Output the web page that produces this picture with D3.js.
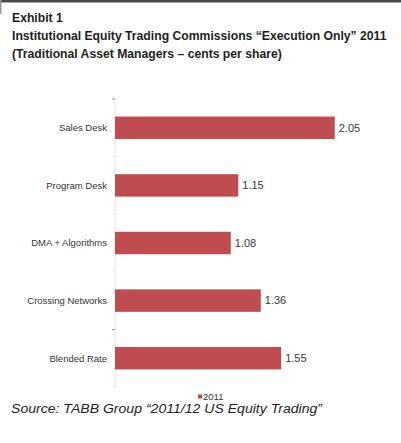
<!DOCTYPE html>
<html>
<head>
<meta charset="utf-8">
<script src="https://cdn.jsdelivr.net/npm/d3@7"></script>
<style>
  html, body { margin: 0; padding: 0; background: #fff; }
  svg { display: block; }
</style>
</head>
<body>
<script>
// Commission rates by trading channel, cents per share
const categories = ["Sales Desk", "Program Desk", "DMA + Algorithms", "Crossing Networks", "Blended Rate"];
const values2011 = [2.05, 1.15, 1.08, 1.36, 1.55];
const seriesName = "2011";
const titleLines = [
  "Exhibit 1",
  "Institutional Equity Trading Commissions \u201cExecution Only\u201d 2011",
  "(Traditional Asset Managers \u2013 cents per share)"
];
const sourceText = "Source: TABB Group \u201c2011/12 US Equity Trading\u201d";

const W = 401, H = 443;
const svg = d3.select("body").append("svg").attr("width", W).attr("height", H);

// frame edges
svg.append("rect").attr("x", 0).attr("y", 0).attr("width", W).attr("height", 2.5).attr("fill", "#4a4a4a");
svg.append("rect").attr("x", 0).attr("y", 0).attr("width", 1.5).attr("height", 14).attr("fill", "#9a9a9a");

// heading
const titleFont = "'Liberation Sans', Arial, sans-serif";
svg.append("g").selectAll("text").data(titleLines).join("text")
  .attr("x", 12)
  .attr("y", (d, i) => 22 + i * 18)
  .attr("font-family", titleFont)
  .attr("font-weight", "bold")
  .attr("font-size", 12.2)
  .attr("fill", "#1e1e1e")
  .text(d => d);

// scales
const x = d3.scaleLinear().domain([0, 2.5]).range([115, 383]);
const y = d3.scaleBand().domain(categories).range([99, 387]).paddingInner(0.61).paddingOuter(0.305);

// category axis line
svg.append("line")
  .attr("x1", x(0)).attr("x2", x(0))
  .attr("y1", 97).attr("y2", 388)
  .attr("stroke", "#e2e2e2").attr("stroke-width", 1);

// faint boundary ticks
const step = y.step();
const bounds = d3.range(categories.length + 1).map(i => y.range()[0] + i * step);
svg.append("g").selectAll("line").data(bounds).join("line")
  .attr("x1", x(0) - 3).attr("x2", x(0))
  .attr("y1", d => d).attr("y2", d => d)
  .attr("stroke", (d, i) => (i === 0 || i === 4) ? "#9a9a9a" : "#eeeeee")
  .attr("stroke-width", 1);

// bars
const rows = categories.map((c, i) => ({ c, v: values2011[i] }));
svg.append("g").selectAll("rect").data(rows).join("rect")
  .attr("x", x(0))
  .attr("y", d => y(d.c))
  .attr("width", d => x(d.v) - x(0))
  .attr("height", y.bandwidth())
  .attr("fill", "#bf4c4f");

// value labels
const labelFont = "'Liberation Sans', Arial, sans-serif";
svg.append("g").selectAll("text").data(rows).join("text")
  .attr("x", d => x(d.v) + 4)
  .attr("y", d => y(d.c) + y.bandwidth() / 2)
  .attr("dy", "0.35em")
  .attr("font-family", labelFont)
  .attr("font-size", 11)
  .attr("fill", "#3a3a3a")
  .text(d => d.v.toFixed(2));

// category labels
svg.append("g").selectAll("text").data(categories).join("text")
  .attr("x", 107)
  .attr("y", d => y(d) + y.bandwidth() / 2)
  .attr("dy", "0.35em")
  .attr("text-anchor", "end")
  .attr("font-family", labelFont)
  .attr("font-size", 9.5)
  .attr("fill", "#333")
  .text(d => d);

// legend
const lg = svg.append("g").attr("transform", "translate(198,394.5)");
lg.append("rect").attr("width", 4).attr("height", 4).attr("fill", "#bf4c4f");
lg.append("text").attr("x", 5).attr("y", 5.5)
  .attr("font-family", labelFont).attr("font-size", 9.5).attr("fill", "#333")
  .text(seriesName);

// source line
svg.append("text")
  .attr("x", 11).attr("y", 413)
  .attr("font-family", "'Liberation Sans', Arial, sans-serif")
  .attr("font-style", "italic")
  .attr("font-size", 13)
  .attr("fill", "#222")
  .attr("textLength", 311)
  .attr("lengthAdjust", "spacingAndGlyphs")
  .text(sourceText);
</script>
</body>
</html>
